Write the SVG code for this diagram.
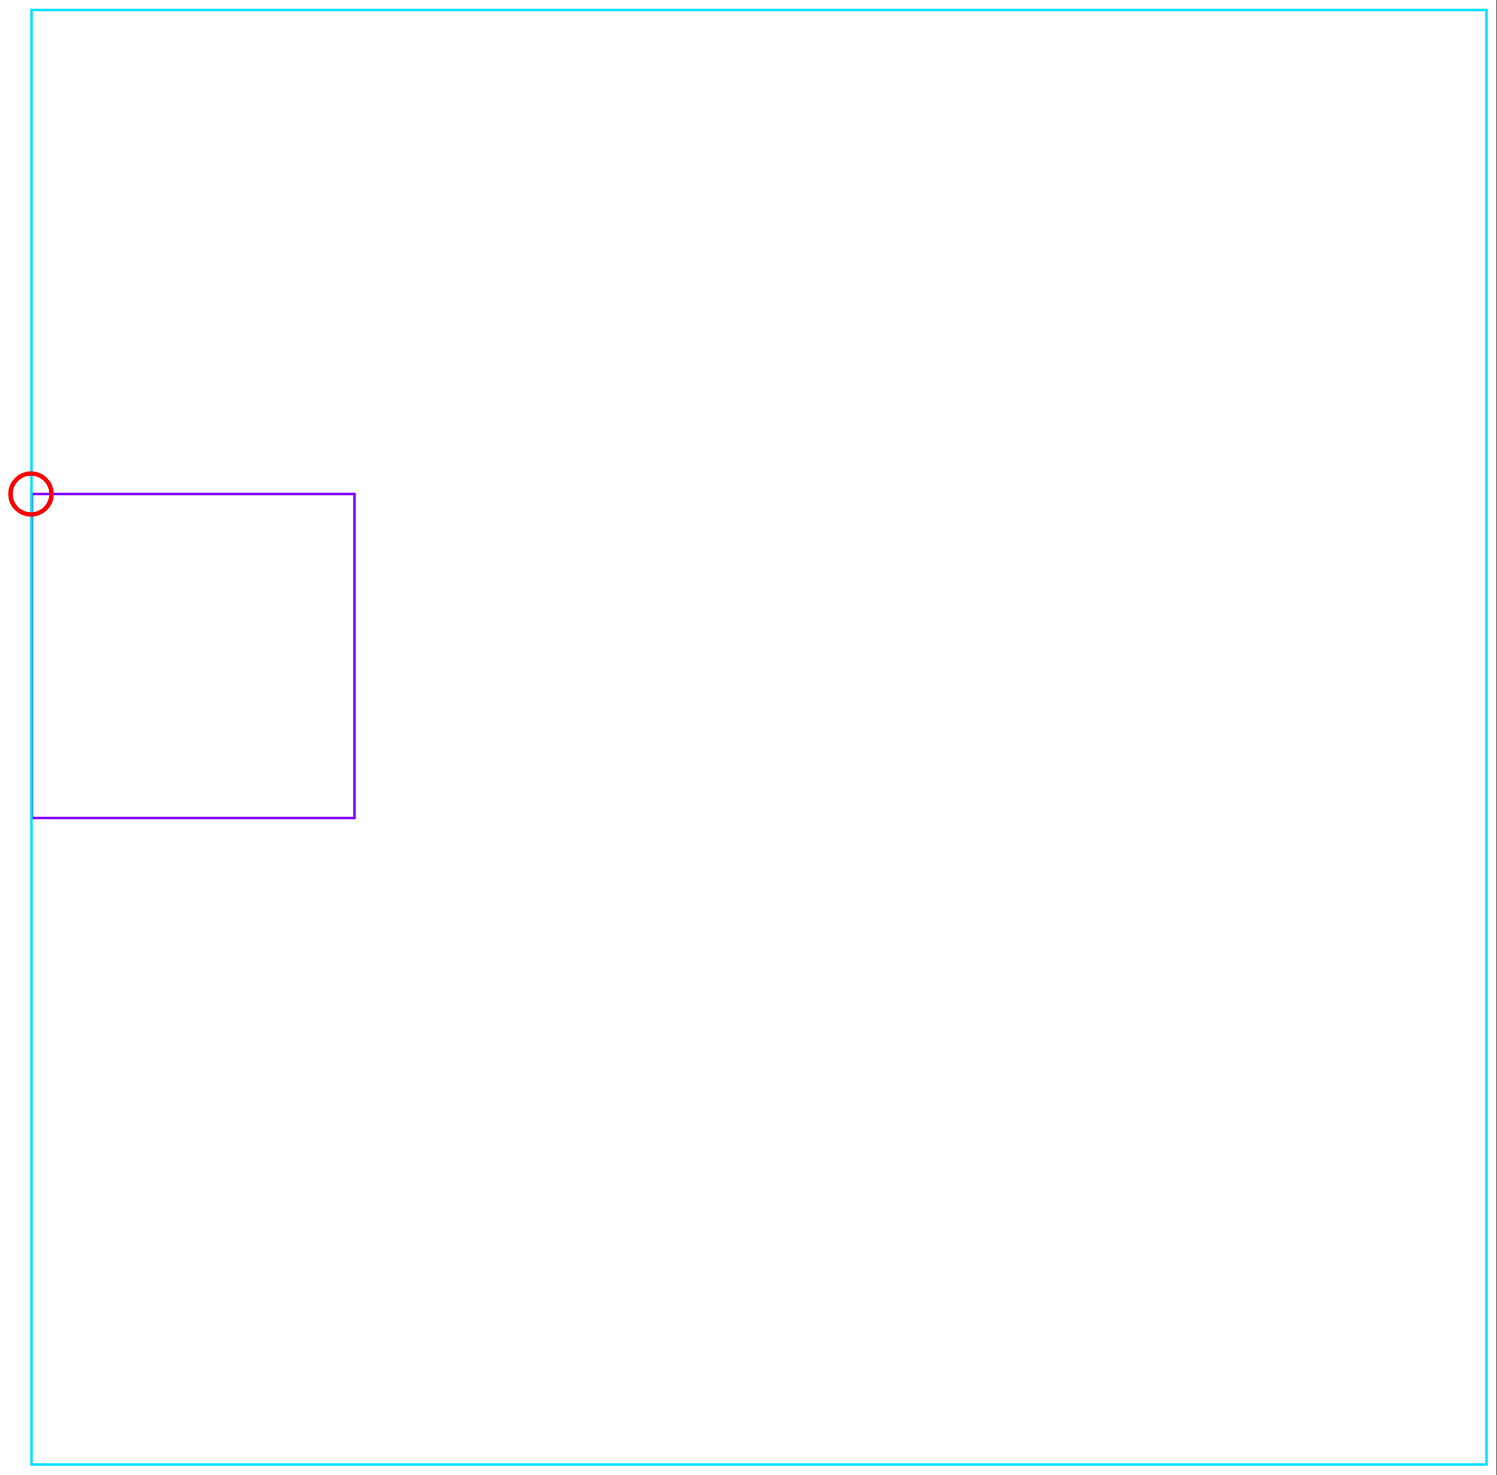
<svg xmlns="http://www.w3.org/2000/svg" width="1497" height="1475" viewBox="0 0 1497 1475">
<style>
.frame{fill:none;stroke:#00e0ff;stroke-width:2.5}
.box{fill:none;stroke:#8000ff;stroke-width:2.5}
.mark{fill:none;stroke:#ff0000;stroke-width:4.5}
</style>
<rect width="1497" height="1475" fill="#ffffff"/>
<line x1="1496.5" y1="0" x2="1496.5" y2="1475" stroke="#888888" stroke-width="1"/>
<g id="inner-box"><rect class="box" x="32" y="494" width="322.5" height="324"/></g>
<g id="outer-frame"><rect class="frame" x="31.5" y="10" width="1455" height="1454.5"/></g>
<g id="connectors"></g>
<g id="marker-circle"><circle class="mark" cx="31" cy="494" r="20.5"/></g>
</svg>
